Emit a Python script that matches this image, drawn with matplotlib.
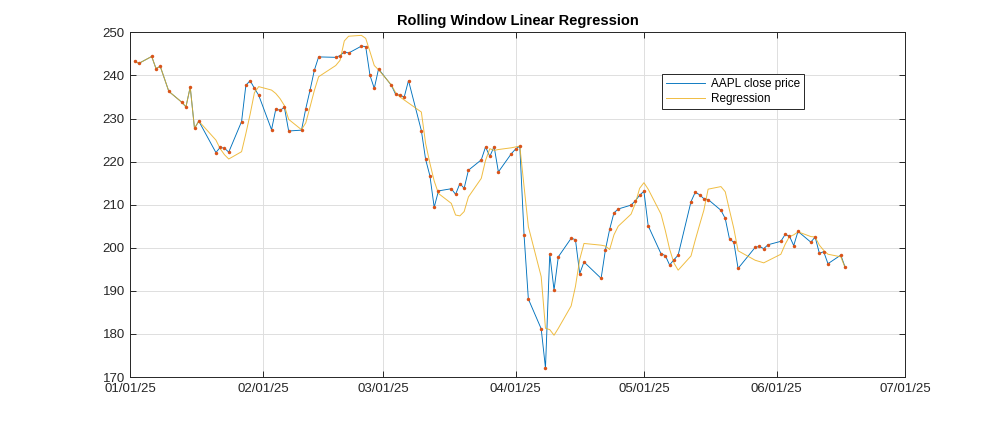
import numpy as np
import pandas as pd
import matplotlib
matplotlib.use("Agg")
import matplotlib.pyplot as plt
import matplotlib.dates as mdates

plt.rcParams['font.family'] = ['Liberation Sans', 'DejaVu Sans']

# Trading days shown in the chart
dates = pd.to_datetime([
    "2025-01-02", "2025-01-03", "2025-01-06", "2025-01-07", "2025-01-08", "2025-01-10",
    "2025-01-13", "2025-01-14", "2025-01-15", "2025-01-16", "2025-01-17", "2025-01-21",
    "2025-01-22", "2025-01-23", "2025-01-24", "2025-01-27", "2025-01-28", "2025-01-29",
    "2025-01-30", "2025-01-31", "2025-02-03", "2025-02-04", "2025-02-05", "2025-02-06",
    "2025-02-07", "2025-02-10", "2025-02-11", "2025-02-12", "2025-02-13", "2025-02-14",
    "2025-02-18", "2025-02-19", "2025-02-20", "2025-02-21", "2025-02-24", "2025-02-25",
    "2025-02-26", "2025-02-27", "2025-02-28", "2025-03-03", "2025-03-04", "2025-03-05",
    "2025-03-06", "2025-03-07", "2025-03-10", "2025-03-11", "2025-03-12", "2025-03-13",
    "2025-03-14", "2025-03-17", "2025-03-18", "2025-03-19", "2025-03-20", "2025-03-21",
    "2025-03-24", "2025-03-25", "2025-03-26", "2025-03-27", "2025-03-28", "2025-03-31",
    "2025-04-01", "2025-04-02", "2025-04-03", "2025-04-04", "2025-04-07", "2025-04-08",
    "2025-04-09", "2025-04-10", "2025-04-11", "2025-04-14", "2025-04-15", "2025-04-16",
    "2025-04-17", "2025-04-21", "2025-04-22", "2025-04-23", "2025-04-24", "2025-04-25",
    "2025-04-28", "2025-04-29", "2025-04-30", "2025-05-01", "2025-05-02", "2025-05-05",
    "2025-05-06", "2025-05-07", "2025-05-08", "2025-05-09", "2025-05-12", "2025-05-13",
    "2025-05-14", "2025-05-15", "2025-05-16", "2025-05-19", "2025-05-20", "2025-05-21",
    "2025-05-22", "2025-05-23", "2025-05-27", "2025-05-28", "2025-05-29", "2025-05-30",
    "2025-06-02", "2025-06-03", "2025-06-04", "2025-06-05", "2025-06-06", "2025-06-09",
    "2025-06-10", "2025-06-11", "2025-06-12", "2025-06-13", "2025-06-16", "2025-06-17",
])

close_price = [
    243.3, 242.8, 244.4, 241.6, 242.1, 236.3,
    233.8, 232.7, 237.3, 227.7, 229.4, 222.1,
    223.3, 223.1, 222.2, 229.3, 237.7, 238.8,
    237.0, 235.4, 227.4, 232.2, 231.9, 232.6,
    227.1, 227.3, 232.3, 236.6, 241.2, 244.3,
    244.2, 244.6, 245.5, 245.2, 246.8, 246.7,
    240.0, 237.0, 241.5, 237.7, 235.6, 235.4,
    235.0, 238.8, 227.2, 220.5, 216.7, 209.4,
    213.2, 213.7, 212.4, 214.9, 213.8, 218.0,
    220.4, 223.4, 221.2, 223.5, 217.6, 221.8,
    222.9, 223.6, 202.9, 188.1, 181.2, 172.1,
    198.6, 190.2, 197.9, 202.2, 201.9, 194.0,
    196.7, 192.9, 199.5, 204.3, 208.1, 209.0,
    209.9, 210.9, 212.2, 213.1, 205.1, 198.6,
    198.2, 196.0, 197.2, 198.3, 210.7, 212.9,
    212.3, 211.4, 211.2, 208.7, 206.8, 202.0,
    201.3, 195.2, 200.1, 200.3, 199.8, 200.7,
    201.5, 203.1, 202.7, 200.5, 203.8, 201.3,
    202.5, 198.7, 199.1, 196.3, 198.3, 195.5,
]

regression = [
    243.3, 242.8, 244.4, 241.6, 242.1, 236.3,
    233.8, 232.7, 237.3, 227.7, 229.4, 225.0,
    223.0, 221.6, 220.6, 222.3, 226.5, 231.0,
    236.0, 237.4, 236.6, 235.8, 234.6, 233.0,
    229.8, 227.4, 229.0, 232.7, 236.5, 239.7,
    242.3, 243.5, 248.0, 249.1, 249.3, 248.6,
    245.5, 242.3, 241.3, 237.8, 236.0, 235.0,
    234.3, 233.6, 231.5, 224.2, 219.6, 215.5,
    212.6, 210.3, 207.6, 207.4, 208.4, 211.8,
    216.1, 220.3, 223.0, 222.6, 222.8, 223.2,
    223.4, 223.6, 214.2, 204.9, 193.3, 181.3,
    181.0, 179.7, 181.3, 186.5, 191.0, 197.3,
    201.0, 200.6, 200.4, 199.6, 203.0, 205.0,
    207.8, 210.3, 213.8, 215.1, 213.6, 207.8,
    204.0, 199.7, 196.5, 194.8, 198.1, 201.8,
    205.3, 208.7, 213.6, 214.2, 213.0, 208.7,
    204.5, 199.3, 197.1, 196.8, 196.5, 197.0,
    198.5, 200.8, 202.6, 203.0, 203.7, 202.6,
    202.5, 200.6, 199.4, 198.5, 197.9, 195.4,
]

month_ticks = pd.date_range("2025-01-01", "2025-07-01", freq="MS")
y_ticks = np.arange(170, 251, 10)

blue = "#0072BD"
orange = "#D95319"
yellow = "#EDB120"
axis_gray = "#262626"

fig = plt.figure(figsize=(10, 4.25), dpi=100)
ax = fig.add_axes([0.1303, 0.1129, 0.7747, 0.811])

h_close, = ax.plot(dates, close_price, color=blue, lw=0.65, label="AAPL close price", zorder=3)
h_reg, = ax.plot(dates, regression, color=yellow, lw=0.7, alpha=0.85, label="Regression", zorder=4)
ax.plot(dates, close_price, linestyle="none", marker="o", ms=2.5, color=orange,
        markeredgewidth=0, zorder=5)

ax.set_xlim(month_ticks[0], month_ticks[-1])
ax.set_ylim(170, 250)
ax.set_xticks(month_ticks)
ax.xaxis.set_major_formatter(mdates.DateFormatter("%m/%d/%y"))
ax.set_yticks(y_ticks)

ax.grid(True, color="#dedede", lw=0.7)
ax.set_axisbelow(True)
for sp in ax.spines.values():
    sp.set_color(axis_gray)
    sp.set_linewidth(0.7)
ax.tick_params(direction="in", length=4, width=0.7, color=axis_gray, labelcolor=axis_gray,
               labelsize=9.5, top=True, right=True, pad=4)

ax.set_title("Rolling Window Linear Regression", fontsize=10.5, fontweight="bold",
             color="black", pad=5)

leg = ax.legend(handles=[h_close, h_reg], loc="upper left", bbox_to_anchor=(0.686, 0.879),
                borderaxespad=0, fontsize=8.5, handlelength=3.3, frameon=True, fancybox=False,
                framealpha=1, edgecolor=axis_gray, borderpad=0.35, labelspacing=0.25,
                handletextpad=0.5)
leg.get_frame().set_linewidth(0.7)

fig.savefig("out.png", dpi=100)
